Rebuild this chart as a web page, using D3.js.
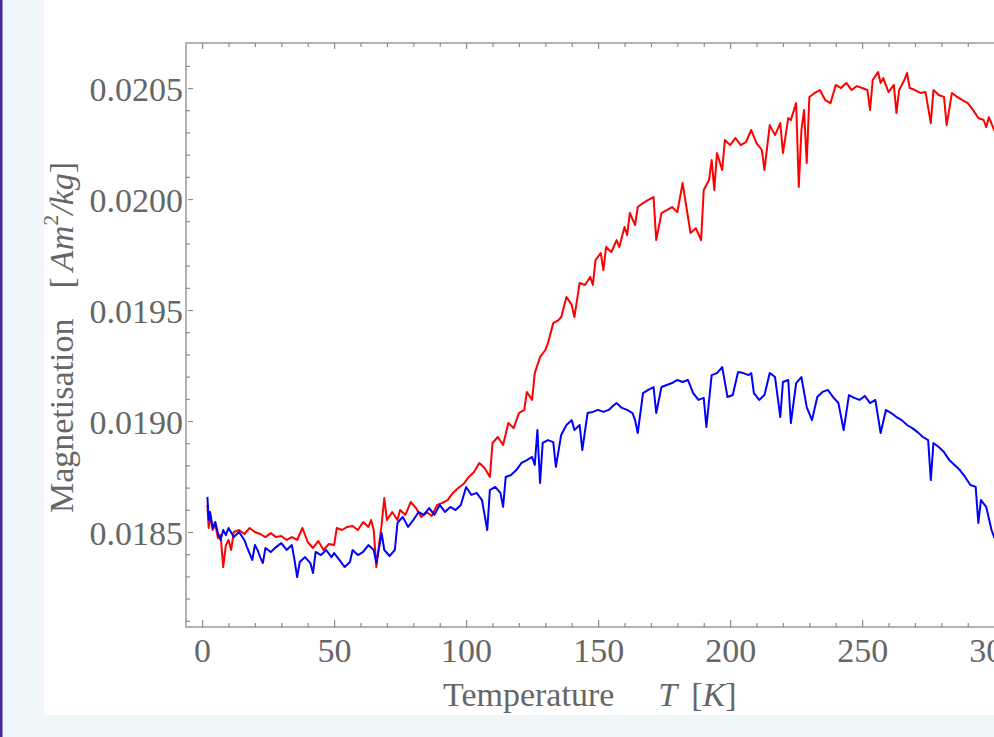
<!DOCTYPE html>
<html>
<head>
<meta charset="utf-8">
<script src="https://cdn.jsdelivr.net/npm/d3@7"></script>
<style>
    body { margin: 0; overflow: hidden; background: #f0f7fb; }
    svg { display: block; }
</style>
</head>
<body>
<svg id="chart" width="994" height="737"></svg>
<script>
// tick labels
const xTicks = [0, 50, 100, 150, 200, 250, 300];
const yTicks = [0.0185, 0.0190, 0.0195, 0.0200, 0.0205];

// red curve (temperature in K, magnetisation in Am^2/kg)
const tempRed = [2, 2.5, 3, 4, 5, 6, 7, 8, 9, 10, 11, 12, 14, 16, 18, 20, 22, 24, 26, 28, 30, 32, 34, 36, 38, 40, 42, 44, 46, 48,
    50, 51, 53, 55, 57, 59, 61, 63, 64, 65, 66, 67, 68, 69, 70, 72, 74, 75, 77, 79, 81, 83, 85, 87, 89, 91, 93, 95, 97, 99,
    101, 103, 105, 107, 109, 110, 112, 114, 116, 118, 120, 122, 123, 125, 126, 128, 130, 131, 133, 135, 136, 138, 140, 141, 143, 145, 147, 148, 149, 151,
    152, 153, 155, 157, 158, 160, 161, 162, 164, 165, 167, 169, 171, 172, 174, 176, 178, 180, 182, 183, 185, 187, 189, 190, 192, 193, 194, 195, 197, 198,
    200, 202, 204, 206, 208, 210, 212, 213, 215, 217, 219, 220, 222, 223, 225, 226, 227, 228, 229, 230, 232, 234, 236, 238, 240, 242, 244, 246, 248, 250,
    252, 253, 254, 256, 257, 258, 260, 262, 263, 264, 266, 267, 268, 270, 272, 274, 276, 277, 279, 281, 282, 284, 286, 288, 290, 292, 294, 296, 297, 298,
    300, 302];
const magRed = [0.018622, 0.018518, 0.018577, 0.018509, 0.018532, 0.018473, 0.018486, 0.018342, 0.018441, 0.018464, 0.018419, 0.018500, 0.018509, 0.018491, 0.018518, 0.018500, 0.018491, 0.018477, 0.018495, 0.018477, 0.018482, 0.018464, 0.018477, 0.018464, 0.018518, 0.018455, 0.018428, 0.018459, 0.018419, 0.018446,
    0.018441, 0.018518, 0.018509, 0.018523, 0.018527, 0.018509, 0.018545, 0.018523, 0.018554, 0.018509, 0.018342, 0.018441, 0.018532, 0.018653, 0.018554, 0.018590, 0.018554, 0.018599, 0.018577, 0.018635, 0.018608, 0.018568, 0.018590, 0.018572, 0.018622, 0.018631, 0.018644, 0.018676, 0.018698, 0.018716,
    0.018748, 0.018770, 0.018811, 0.018788, 0.018748, 0.018901, 0.018928, 0.018892, 0.018991, 0.018968, 0.019036, 0.019050, 0.019131, 0.019095, 0.019216, 0.019288, 0.019320, 0.019351, 0.019441, 0.019455, 0.019468, 0.019559, 0.019523, 0.019468, 0.019622, 0.019613, 0.019649, 0.019613, 0.019725, 0.019757,
    0.019680, 0.019784, 0.019761, 0.019815, 0.019784, 0.019874, 0.019838, 0.019937, 0.019883, 0.019964, 0.019982, 0.019996, 0.020009, 0.019815, 0.019937, 0.019950, 0.019964, 0.019941, 0.020072, 0.019996, 0.019847, 0.019869, 0.019815, 0.020041, 0.020086, 0.020176, 0.020041, 0.020207, 0.020131, 0.020266,
    0.020243, 0.020275, 0.020243, 0.020257, 0.020311, 0.020252, 0.020221, 0.020131, 0.020333, 0.020288, 0.020342, 0.020207, 0.020365, 0.020356, 0.020432, 0.020054, 0.020311, 0.020401, 0.020162, 0.020460, 0.020478, 0.020491, 0.020446, 0.020432, 0.020514, 0.020500, 0.020523, 0.020491, 0.020509, 0.020500,
    0.020491, 0.020401, 0.020536, 0.020572, 0.020523, 0.020545, 0.020482, 0.020514, 0.020387, 0.020491, 0.020536, 0.020568, 0.020500, 0.020491, 0.020478, 0.020482, 0.020342, 0.020491, 0.020469, 0.020460, 0.020333, 0.020478, 0.020460, 0.020446, 0.020432, 0.020401, 0.020365, 0.020356, 0.020324, 0.020369,
    0.020311, 0.020356];

// blue curve
const tempBlue = [2, 2.5, 3, 4, 5, 6, 7, 8, 9, 10, 12, 14, 16, 17, 19, 20, 21, 22, 23, 24, 26, 28, 30, 32, 34, 35, 36, 37, 39, 41,
    42, 43, 45, 47, 49, 50, 52, 54, 56, 57, 59, 61, 63, 65, 66, 67, 68, 69, 71, 73, 74, 76, 78, 80, 82, 84, 86, 88, 90, 92,
    94, 96, 98, 100, 102, 104, 106, 108, 109, 111, 113, 114, 115, 117, 119, 121, 123, 125, 126, 127, 128, 129, 131, 133, 134, 136, 138, 140, 141, 143,
    144, 146, 148, 150, 152, 154, 156, 157, 159, 161, 163, 164, 165, 167, 169, 171, 172, 174, 176, 178, 180, 182, 184, 186, 188, 190, 191, 193, 195, 197,
    199, 201, 203, 205, 207, 208, 209, 211, 213, 215, 217, 219, 220, 222, 223, 225, 227, 229, 231, 233, 235, 237, 239, 241, 243, 245, 247, 249, 251, 253,
    255, 257, 259, 261, 263, 265, 267, 269, 271, 273, 275, 276, 277, 279, 281, 283, 285, 287, 289, 291, 293, 294, 295, 297, 299, 300, 302];
const magBlue = [0.018658, 0.018554, 0.018590, 0.018518, 0.018545, 0.018495, 0.018464, 0.018509, 0.018486, 0.018518, 0.018477, 0.018500, 0.018464, 0.018432, 0.018374, 0.018441, 0.018419, 0.018387, 0.018360, 0.018428, 0.018410, 0.018432, 0.018450, 0.018419, 0.018441, 0.018374, 0.018297, 0.018365, 0.018387, 0.018360,
    0.018315, 0.018410, 0.018396, 0.018419, 0.018387, 0.018405, 0.018374, 0.018342, 0.018365, 0.018419, 0.018396, 0.018410, 0.018441, 0.018419, 0.018360, 0.018428, 0.018495, 0.018419, 0.018392, 0.018419, 0.018541, 0.018568, 0.018523, 0.018554, 0.018590, 0.018577, 0.018608, 0.018577, 0.018622, 0.018590,
    0.018613, 0.018599, 0.018622, 0.018703, 0.018667, 0.018676, 0.018644, 0.018509, 0.018689, 0.018703, 0.018676, 0.018613, 0.018748, 0.018757, 0.018779, 0.018811, 0.018824, 0.018838, 0.018802, 0.018959, 0.018721, 0.018901, 0.018914, 0.018905, 0.018793, 0.018937, 0.018982, 0.019004, 0.018959, 0.018982,
    0.018869, 0.019036, 0.019041, 0.019050, 0.019041, 0.019050, 0.019072, 0.019081, 0.019059, 0.019050, 0.019036, 0.019004, 0.018946, 0.019126, 0.019140, 0.019153, 0.019036, 0.019153, 0.019162, 0.019171, 0.019185, 0.019176, 0.019185, 0.019126, 0.019095, 0.019104, 0.018973, 0.019207, 0.019216, 0.019243,
    0.019108, 0.019117, 0.019221, 0.019216, 0.019207, 0.019216, 0.019126, 0.019095, 0.019117, 0.019216, 0.019198, 0.019018, 0.019176, 0.019185, 0.018991, 0.019171, 0.019198, 0.019063, 0.019004, 0.019108, 0.019131, 0.019140, 0.019108, 0.019081, 0.018959, 0.019117, 0.019104, 0.019095, 0.019113, 0.019081,
    0.019095, 0.018946, 0.019050, 0.019036, 0.019018, 0.019004, 0.018982, 0.018968, 0.018950, 0.018928, 0.018914, 0.018734, 0.018901, 0.018883, 0.018860, 0.018824, 0.018802, 0.018779, 0.018748, 0.018712, 0.018703, 0.018541, 0.018644, 0.018613, 0.018509, 0.018477, 0.018441];

class MagPlot {
    constructor(parentElement) {
        this.parentElement = parentElement;
        this.initVis();
    }

    initVis() {
        let vis = this;

        vis.svg = d3.select(vis.parentElement);

        // PAGE BACKGROUND
        vis.svg.append('rect').attr('x', 0).attr('y', 0).attr('width', 994).attr('height', 737).attr('fill', '#f0f7fb');
        vis.svg.append('rect').attr('x', 44).attr('y', 0).attr('width', 950).attr('height', 715).attr('fill', '#ffffff');
        vis.svg.append('rect').attr('x', 0).attr('y', 0).attr('width', 2.5).attr('height', 737).attr('fill', '#45289c');

        // SCALES
        vis.x = d3.scaleLinear().domain([-6.1, 306]).range([186, 1010]);
        vis.y = d3.scaleLinear().domain([0.018072, 0.020703]).range([627, 43]);

        vis.xMinor = d3.range(0, 301, 10).filter(d => d % 50 !== 0);
        vis.yMinor = d3.range(181, 207).map(d => d / 10000).filter(d => Math.round(d * 10000) % 5 !== 0);

        vis.font = 'Liberation Serif, Times New Roman, serif';
        vis.tickColor = '#8c8c8c';

        // LINES
        vis.line = d3.line().x(d => vis.x(d[0])).y(d => vis.y(d[1]));
        vis.svg.append('path')
            .datum(tempRed.map((t, i) => [t, magRed[i]]))
            .attr('d', vis.line)
            .attr('fill', 'none')
            .attr('stroke', '#ff0000')
            .attr('stroke-width', 2)
            .attr('stroke-linejoin', 'round');
        vis.svg.append('path')
            .datum(tempBlue.map((t, i) => [t, magBlue[i]]))
            .attr('d', vis.line)
            .attr('fill', 'none')
            .attr('stroke', '#0000ff')
            .attr('stroke-width', 2)
            .attr('stroke-linejoin', 'round');

        // FRAME
        vis.svg.append('rect')
            .attr('x', vis.x(-6.1))
            .attr('y', vis.y(0.020703))
            .attr('width', vis.x(306) - vis.x(-6.1))
            .attr('height', vis.y(0.018072) - vis.y(0.020703))
            .attr('fill', 'none')
            .attr('stroke', '#9a9a9a')
            .attr('stroke-width', 1.5);

        // AXES
        const bottom = vis.y(0.018072), top = vis.y(0.020703), left = vis.x(-6.1);

        vis.svg.append('g')
            .attr('transform', `translate(0, ${bottom})`)
            .call(d3.axisBottom(vis.x).tickValues(xTicks).tickSizeInner(-7).tickSizeOuter(0).tickPadding(11))
            .call(g => vis.styleAxis(g));
        vis.svg.append('g')
            .attr('transform', `translate(0, ${bottom})`)
            .call(d3.axisBottom(vis.x).tickValues(vis.xMinor).tickSizeInner(-4).tickSizeOuter(0).tickFormat(''))
            .call(g => vis.styleAxis(g));
        vis.svg.append('g')
            .attr('transform', `translate(0, ${top})`)
            .call(d3.axisTop(vis.x).tickValues(xTicks).tickSizeInner(-6).tickSizeOuter(0).tickFormat(''))
            .call(g => vis.styleAxis(g));
        vis.svg.append('g')
            .attr('transform', `translate(0, ${top})`)
            .call(d3.axisTop(vis.x).tickValues(vis.xMinor).tickSizeInner(-4).tickSizeOuter(0).tickFormat(''))
            .call(g => vis.styleAxis(g));

        vis.svg.append('g')
            .attr('transform', `translate(${left}, 0)`)
            .call(d3.axisLeft(vis.y).tickValues(yTicks).tickSizeInner(-7).tickSizeOuter(0).tickPadding(3).tickFormat(d3.format('.4f')))
            .call(g => vis.styleAxis(g))
            .call(g => g.selectAll('.tick line').attr('x1', 2))
            .call(g => g.selectAll('.tick text').attr('dy', '0.38em'));
        vis.svg.append('g')
            .attr('transform', `translate(${left}, 0)`)
            .call(d3.axisLeft(vis.y).tickValues(vis.yMinor).tickSizeInner(-4).tickSizeOuter(0).tickFormat(''))
            .call(g => vis.styleAxis(g));

        // AXIS TITLES
        const xt = vis.svg.append('text')
            .attr('x', 443)
            .attr('y', 706)
            .attr('font-family', vis.font)
            .attr('font-size', 34)
            .attr('fill', '#666666');
        xt.append('tspan').text('Temperature');
        xt.append('tspan').attr('dx', 44).attr('font-style', 'italic').text('T');
        xt.append('tspan').attr('dx', 14).text('[');
        xt.append('tspan').attr('font-style', 'italic').text('K');
        xt.append('tspan').text(']');

        const yt = vis.svg.append('text')
            .attr('transform', 'translate(73, 513) rotate(-90)')
            .attr('font-family', vis.font)
            .attr('font-size', 34)
            .attr('fill', '#666666');
        yt.append('tspan').text('Magnetisation');
        yt.append('tspan').attr('dx', 30).text('[');
        yt.append('tspan').attr('dx', 6).attr('font-style', 'italic').text('Am');
        yt.append('tspan').attr('font-size', 22).attr('dy', -15).text('2');
        yt.append('tspan').attr('dy', 15).attr('font-style', 'italic').text('/kg');
        yt.append('tspan').text(']');
    }

    styleAxis(g) {
        let vis = this;
        g.select('.domain').remove();
        g.selectAll('.tick line').attr('stroke', vis.tickColor).attr('stroke-width', 1.2);
        g.selectAll('.tick text')
            .attr('font-family', vis.font)
            .attr('font-size', 34)
            .attr('fill', '#666666');
    }
}

new MagPlot('#chart');
</script>
</body>
</html>
